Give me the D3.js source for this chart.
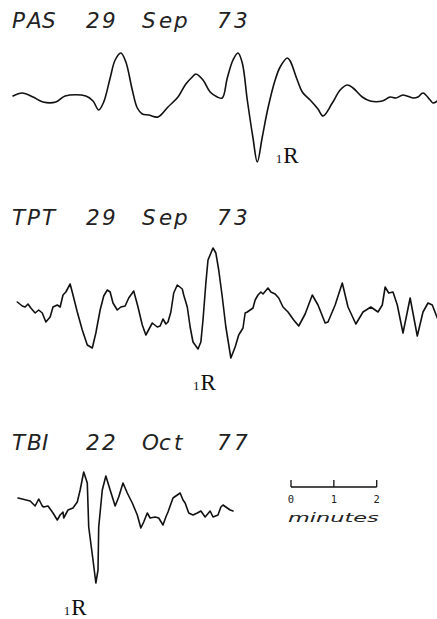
<!DOCTYPE html>
<html>
<head>
<meta charset="utf-8">
<script src="https://cdn.jsdelivr.net/npm/d3@7"></script>
<style>
  html, body { margin: 0; padding: 0; background: #fff; }
  svg { display: block; }
</style>
</head>
<body>
<svg id="chart" width="437" height="619"></svg>
<script>
// Seismogram records: time in seconds from the start of each trace,
// amplitude in arbitrary plot units (positive = up).
const stations = ["PAS 29 Sep 73", "TPT 29 Sep 73", "TBI 22 Oct 77"];

const pasTime = [0, 13, 28, 42, 60, 73, 102, 112, 120, 127, 136, 143, 151, 158, 167, 174, 181, 190,
  203, 217, 231, 242, 251, 256, 266, 276, 286, 293, 300, 308, 315, 321, 328, 336, 342, 349, 357,
  367, 374, 384, 388, 398, 405, 416, 427, 434, 447, 458, 468, 476, 489, 500, 517, 528, 536, 546,
  560, 567, 574, 584, 588, 594];
const pasAmp = [4, 7, 3, -2, -2, 4, 4, -1, -10, -2, 22, 40, 47, 38, 10, -8, -14, -15,
  -17, -7, 3, 16, 23, 26, 20, 8, 3, 2, 22, 40, 47, 37, 0, -38, -62, -37, -8,
  20, 33, 42, 39, 20, 8, 0, -9, -16, -3, 10, 15, 12, 3, -1, -1, 3, 2, 5,
  2, 3, 7, 0, -3, -1];

const tptTime = [6, 13, 17, 21, 25, 31, 36, 41, 46, 52, 56, 62, 66, 70, 74, 80, 84, 90, 97, 104,
  111, 116, 122, 127, 132, 136, 140, 146, 151, 157, 162, 169, 175, 181, 186, 195, 202, 206, 210,
  214, 217, 221, 225, 230, 237, 239, 244, 248, 252, 259, 263, 266, 270, 273, 280, 284, 288, 293,
  298, 305, 311, 316, 322, 325, 328, 336, 339, 343, 347, 350, 357, 361, 367, 372, 378, 385, 393,
  400, 409, 419, 427, 437, 441, 451, 461, 469, 480, 490, 501, 511, 517, 521, 526, 532, 538, 546,
  556, 566, 574, 581, 587, 594];
const tptAmp = [3, -1, -2, 1, -3, -8, -5, -8, -17, -12, -2, 0, -2, 10, 13, 21, 10, -7, -25, -40,
  -43, -28, -5, 9, 15, 13, 2, -5, -2, -1, 7, 14, -2, -20, -30, -18, -22, -21, -14,
  -19, -17, -7, 12, 20, 16, 10, -2, -22, -37, -44, -37, -15, 22, 45, 57, 52, 35, 8,
  -22, -53, -42, -30, -23, -8, -7, -3, 5, 10, 13, 11, 17, 13, 11, 7, -2, -7, -15,
  -21, -9, 10, 0, -18, -17, 0, 22, -2, -19, -7, -2, -7, 0, 18, 12, 13, 0, -28,
  7, -31, -7, 2, 0, -13];

const tbiTime = [7, 13, 24, 31, 36, 41, 43, 49, 56, 62, 66, 70, 71, 77, 84, 90, 94, 99, 104, 106,
  112, 116, 119, 120, 125, 130, 136, 143, 148, 154, 160, 167, 174, 179, 183, 188, 192, 199, 204,
  210, 214, 217, 224, 230, 234, 238, 241, 246, 252, 258, 263, 269, 276, 280, 287, 291, 294, 300,
  304, 308];
const tbiAmp = [12, 11, 9, 4, 11, 4, 3, 4, -3, -10, -5, -2, -8, 0, 2, 8, 20, 38, 27, -17,
  -50, -73, -60, -17, 20, 34, 20, 4, 13, 27, 17, 7, -5, -18, -12, -3, -8, -7, -8,
  -15, -7, -2, 12, 15, 17, 10, 7, -3, -5, -3, -1, -7, -1, -7, -5, 3, 5, 2,
  0, -1];

// Arrival time of the first Rayleigh wave (1R) on each record, seconds.
const arrivalTime = [368, 252, 71];

// Time-scale bar: tick values in minutes.
const scaleTicks = [0, 1, 2];

const traces = [
  { name: stations[0], time: pasTime, amp: pasAmp, smooth: true },
  { name: stations[1], time: tptTime, amp: tptAmp, smooth: false },
  { name: stations[2], time: tbiTime, amp: tbiAmp, smooth: false }
];

// Panel geometry: title baseline, zero line, and label baseline for each record.
const panels = [
  { title: 28, zero: 100, label: 163 },
  { title: 225, zero: 305, label: 390 },
  { title: 450, zero: 510, label: 615 }
];

// Left edge of each character cell in the plotter-style titles.
const titleCells = [12, 27, 42, 65, 86, 102, 123, 142, 159, 174, 196, 217, 234];

const svg = d3.select("#chart");

// One shared time axis: 1 minute of record spans the same width on every trace.
const x = d3.scaleLinear().domain([0, 600]).range([13, 13 + 600 / 1.4]);

const titleFont = "'DejaVu Sans', sans-serif";
const monoFont = "'DejaVu Sans Mono', monospace";

traces.forEach((tr, i) => {
  const p = panels[i];
  const y = d3.scaleLinear().domain([-100, 100]).range([p.zero + 100, p.zero - 100]);
  const pts = tr.time.map((t, k) => ({ t, a: tr.amp[k] }));

  const line = d3.line()
    .x(d => x(d.t))
    .y(d => y(d.a))
    .curve(tr.smooth ? d3.curveCatmullRom.alpha(0.5) : d3.curveLinear);

  const g = svg.append("g").attr("class", "record");

  g.append("text")
    .attr("x", titleCells.join(" "))
    .attr("y", p.title)
    .attr("font-family", titleFont)
    .attr("font-style", "oblique")
    .attr("font-weight", 200)
    .attr("font-size", 21.5)
    .attr("fill", "#222")
    .text(tr.name);

  g.append("path")
    .datum(pts)
    .attr("d", line)
    .attr("fill", "none")
    .attr("stroke", "#111")
    .attr("stroke-width", 1.6)
    .attr("stroke-linejoin", "round")
    .attr("stroke-linecap", "round");

  const lbl = g.append("text")
    .attr("x", x(arrivalTime[i]))
    .attr("y", p.label)
    .attr("font-family", "'Liberation Serif', 'Times New Roman', serif")
    .attr("fill", "#111");
  lbl.append("tspan").attr("font-size", 13).text("1");
  lbl.append("tspan").attr("font-size", 23).attr("dx", 1).text("R");
});

// Time-scale bar (minutes)
const barX0 = 291, barY = 487;
const sb = svg.append("g").attr("transform", `translate(${barX0 - x(0)},${barY})`);
const secs = m => x(m * 60);

sb.append("line")
  .attr("x1", secs(scaleTicks[0])).attr("x2", secs(scaleTicks[scaleTicks.length - 1]))
  .attr("y1", 0).attr("y2", 0)
  .attr("stroke", "#111").attr("stroke-width", 1.3);

sb.selectAll("line.tick")
  .data(scaleTicks)
  .join("line")
  .attr("class", "tick")
  .attr("x1", d => secs(d)).attr("x2", d => secs(d))
  .attr("y1", 0).attr("y2", -7)
  .attr("stroke", "#111").attr("stroke-width", 1.3);

sb.selectAll("text.tl")
  .data(scaleTicks)
  .join("text")
  .attr("class", "tl")
  .attr("x", d => secs(d))
  .attr("y", 16)
  .attr("text-anchor", "middle")
  .attr("font-family", monoFont)
  .attr("font-size", 10.5)
  .attr("fill", "#222")
  .text(d => d);

// Caption under the bar, stretched to span the full two minutes.
sb.append("text")
  .attr("x", secs(0) - 3)
  .attr("y", 35)
  .attr("font-family", titleFont)
  .attr("font-style", "oblique")
  .attr("font-weight", 200)
  .attr("font-size", 13)
  .attr("textLength", secs(2) - secs(0) + 5)
  .attr("lengthAdjust", "spacingAndGlyphs")
  .attr("fill", "#222")
  .text("minutes");
</script>
</body>
</html>
